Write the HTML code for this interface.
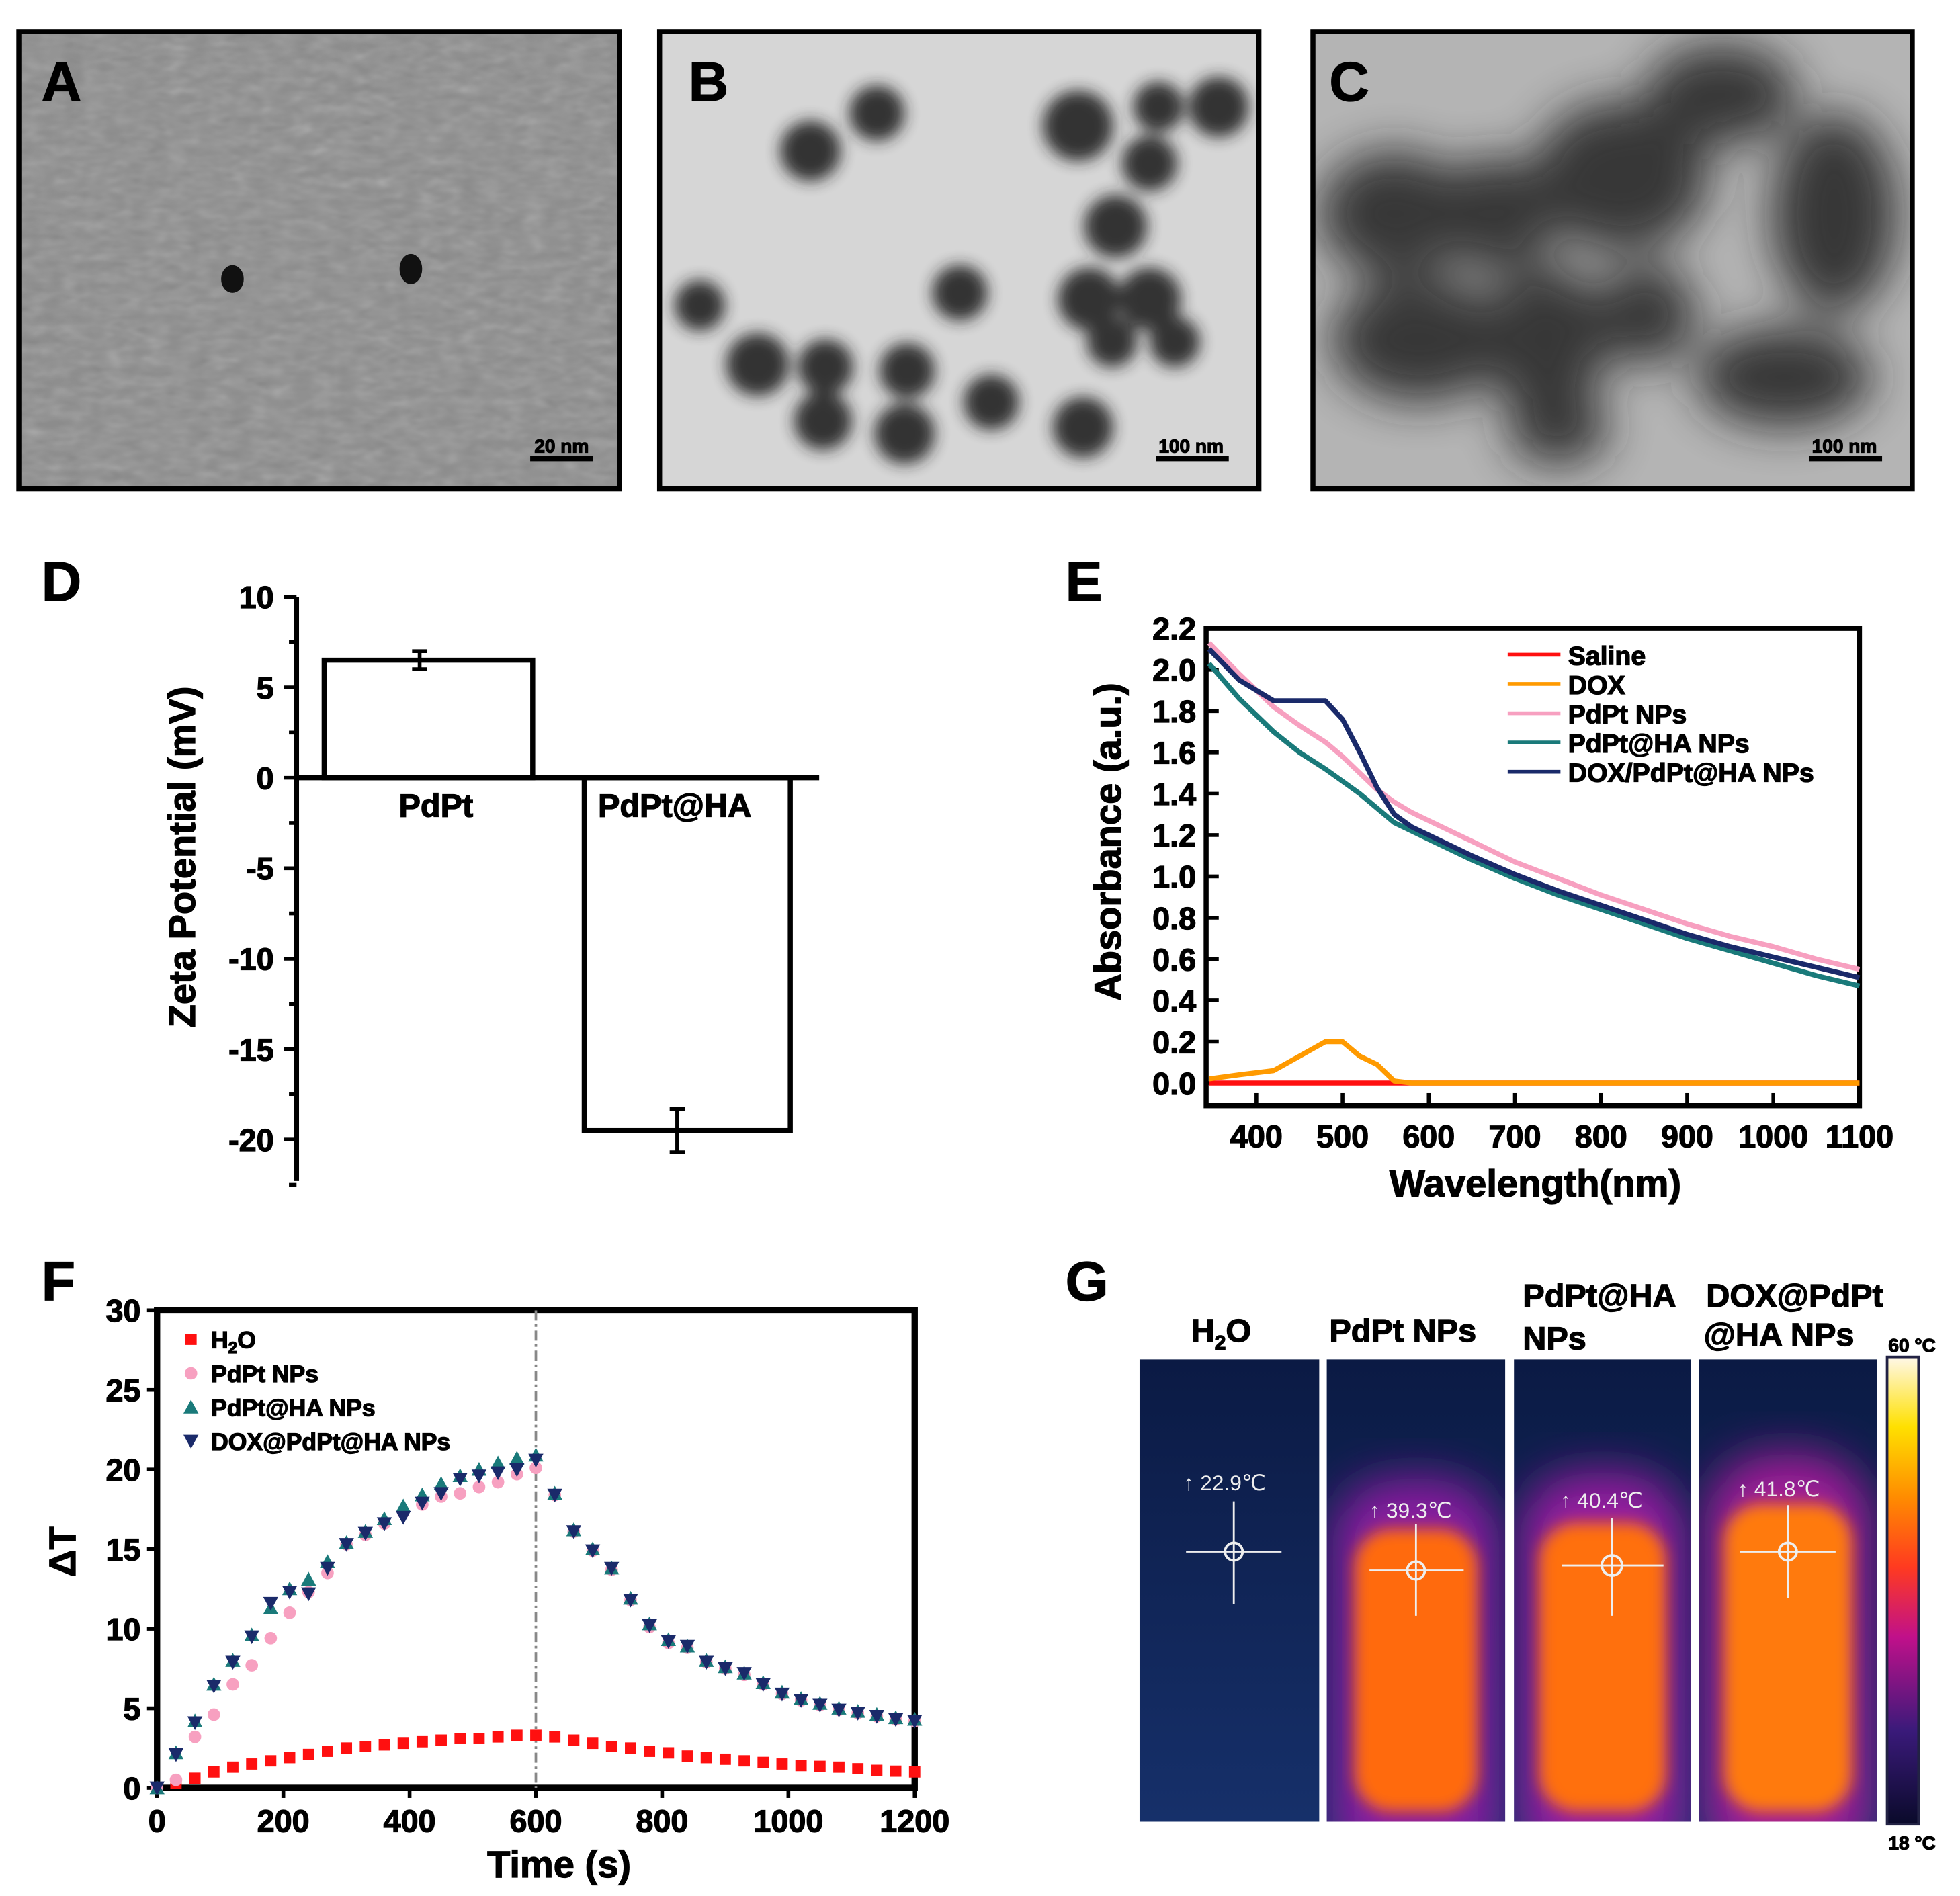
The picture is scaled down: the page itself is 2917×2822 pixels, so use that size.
<!DOCTYPE html>
<html><head><meta charset="utf-8"><style>
html,body{margin:0;padding:0;background:#fff;}
svg{display:block;}
text{font-family:"Liberation Sans",sans-serif;font-weight:bold;fill:#000;stroke:#000;stroke-width:0.7px;}
</style></head><body>
<svg id="fig" width="2917" height="2822" viewBox="0 0 1560 1509" xmlns="http://www.w3.org/2000/svg">
<defs>
<filter id="blur6"><feGaussianBlur stdDeviation="6"/></filter>
<filter id="blur20"><feGaussianBlur stdDeviation="18"/></filter>
<filter id="noise" x="0" y="0" width="1" height="1"><feTurbulence type="fractalNoise" baseFrequency="0.06 0.12" numOctaves="2" seed="3"/><feColorMatrix type="saturate" values="0"/></filter>
<clipPath id="clipA"><rect x="15" y="25" width="478" height="364"/></clipPath>
<clipPath id="clipB"><rect x="525" y="25" width="477" height="364"/></clipPath>
<clipPath id="clipC"><rect x="1045" y="25" width="477" height="364"/></clipPath>
<linearGradient id="cbar" x1="0" y1="1" x2="0" y2="0">
<stop offset="0" stop-color="#0a0a2a"/><stop offset="0.2" stop-color="#3a1a7a"/><stop offset="0.4" stop-color="#c0108a"/><stop offset="0.55" stop-color="#ff3a20"/><stop offset="0.7" stop-color="#ff8c00"/><stop offset="0.85" stop-color="#ffe000"/><stop offset="1" stop-color="#fff8e8"/></linearGradient>
<linearGradient id="bgv" x1="0" y1="0" x2="0" y2="1"><stop offset="0" stop-color="#0b1a44"/><stop offset="1" stop-color="#16306a"/></linearGradient>
</defs>

<g>
<g clip-path="url(#clipA)">
<rect x="15" y="25" width="478" height="364" fill="#8c8c8c"/>
<rect x="15" y="25" width="478" height="364" filter="url(#noise)" opacity="0.35"/>
</g>
<ellipse cx="185" cy="222" rx="9" ry="11" fill="#111"/><ellipse cx="327" cy="214" rx="9" ry="12" fill="#111"/>
<rect x="15" y="25" width="478" height="364" fill="none" stroke="#000" stroke-width="4"/>
<text x="33" y="80" font-size="44">A</text>
<line x1="422" y1="365" x2="472" y2="365" stroke="#000" stroke-width="4"/><text x="447" y="360" font-size="15" text-anchor="middle">20 nm</text>
</g>
<g>
<rect x="525" y="25" width="477" height="364" fill="#d6d6d6"/>
<g clip-path="url(#clipB)"><g fill="#222" filter="url(#blur6)" opacity="0.9">
<circle cx="645" cy="120" r="24"/><circle cx="698" cy="90" r="22"/><circle cx="557" cy="243" r="20"/><circle cx="603" cy="290" r="25"/><circle cx="657" cy="292" r="22"/><circle cx="655" cy="335" r="23"/><circle cx="722" cy="295" r="22"/><circle cx="720" cy="345" r="24"/><circle cx="764" cy="233" r="22"/><circle cx="789" cy="320" r="22"/><circle cx="858" cy="100" r="28"/><circle cx="922" cy="85" r="20"/><circle cx="970" cy="85" r="24"/><circle cx="915" cy="130" r="22"/><circle cx="888" cy="180" r="25"/><circle cx="867" cy="238" r="25"/><circle cx="915" cy="238" r="25"/><circle cx="885" cy="272" r="20"/><circle cx="935" cy="272" r="20"/><circle cx="862" cy="340" r="24"/></g></g>
<rect x="525" y="25" width="477" height="364" fill="none" stroke="#000" stroke-width="4"/>
<text x="548" y="80" font-size="44">B</text>
<line x1="920" y1="365" x2="978" y2="365" stroke="#000" stroke-width="4"/><text x="948" y="360" font-size="15" text-anchor="middle">100 nm</text>
</g>
<g>
<rect x="1045" y="25" width="477" height="364" fill="#b4b4b4"/>
<g clip-path="url(#clipC)"><g fill="#222" filter="url(#blur20)" opacity="0.85">
<ellipse cx="1110" cy="170" rx="60" ry="50"/><ellipse cx="1190" cy="170" rx="50" ry="45"/><ellipse cx="1290" cy="140" rx="70" ry="60"/><ellipse cx="1370" cy="75" rx="60" ry="40"/><ellipse cx="1460" cy="170" rx="50" ry="80"/><ellipse cx="1130" cy="270" rx="70" ry="50"/><ellipse cx="1230" cy="270" rx="50" ry="60"/><ellipse cx="1310" cy="250" rx="40" ry="40"/><ellipse cx="1420" cy="300" rx="70" ry="40"/><ellipse cx="1240" cy="340" rx="40" ry="30"/></g></g>
<rect x="1045" y="25" width="477" height="364" fill="none" stroke="#000" stroke-width="4"/>
<text x="1058" y="80" font-size="44">C</text>
<line x1="1440" y1="365" x2="1498" y2="365" stroke="#000" stroke-width="4"/><text x="1468" y="360" font-size="15" text-anchor="middle">100 nm</text>
</g>

<g id="panelD"></g>
<g id="panelE"></g>
<g id="panelF"></g>

<g>
<text x="848" y="1035" font-size="44">G</text>
<text x="948" y="1068" font-size="26">H<tspan font-size="16" dy="6">2</tspan><tspan dy="-6">O</tspan></text>
<text x="1058" y="1068" font-size="26">PdPt NPs</text>
<text x="1212" y="1040" font-size="26">PdPt@HA</text><text x="1212" y="1074" font-size="26">NPs</text>
<text x="1358" y="1040" font-size="26">DOX@PdPt</text><text x="1356" y="1071" font-size="26">@HA NPs</text>
<g><rect x="907" y="1082" width="143" height="368" fill="url(#bgv)"/></g>
<g><rect x="1056" y="1082" width="142" height="368" fill="url(#bgv)"/>
<svg x="1056" y="1082" width="142" height="368"><rect x="5" y="95" width="132" height="320" rx="50" fill="#8a1ea0" filter="url(#blur20)"/><rect x="22" y="135" width="98" height="225" rx="30" fill="#ff6a10" filter="url(#blur6)"/></svg></g>
<g><rect x="1205" y="1082" width="141" height="368" fill="url(#bgv)"/>
<svg x="1205" y="1082" width="141" height="368"><rect x="5" y="90" width="131" height="320" rx="50" fill="#961ea0" filter="url(#blur20)"/><rect x="20" y="130" width="101" height="230" rx="30" fill="#ff7010" filter="url(#blur6)"/></svg></g>
<g><rect x="1352" y="1082" width="142" height="368" fill="url(#bgv)"/>
<svg x="1352" y="1082" width="142" height="368"><rect x="5" y="75" width="132" height="335" rx="55" fill="#a01e98" filter="url(#blur20)"/><rect x="20" y="115" width="102" height="245" rx="30" fill="#ff7a10" filter="url(#blur6)"/></svg></g>
<g stroke="#eee" stroke-width="1.5" fill="none">
<line x1="982" y1="1195" x2="982" y2="1277"/><line x1="944" y1="1235" x2="1020" y2="1235"/><circle cx="982" cy="1235" r="7" stroke-width="2"/>
<line x1="1127" y1="1213" x2="1127" y2="1286"/><line x1="1090" y1="1250" x2="1165" y2="1250"/><circle cx="1127" cy="1250" r="7" stroke-width="2"/>
<line x1="1283" y1="1208" x2="1283" y2="1286"/><line x1="1243" y1="1246" x2="1324" y2="1246"/><circle cx="1283" cy="1246" r="8" stroke-width="2"/>
<line x1="1423" y1="1198" x2="1423" y2="1272"/><line x1="1385" y1="1235" x2="1461" y2="1235"/><circle cx="1423" cy="1235" r="7" stroke-width="2"/>
</g>
<g font-size="17">
<text x="942" y="1186" style="font-weight:normal;fill:#eee;stroke:none">↑ 22.9℃</text>
<text x="1090" y="1208" style="font-weight:normal;fill:#eee;stroke:none">↑ 39.3℃</text>
<text x="1242" y="1200" style="font-weight:normal;fill:#eee;stroke:none">↑ 40.4℃</text>
<text x="1383" y="1191" style="font-weight:normal;fill:#eee;stroke:none">↑ 41.8℃</text>
</g>
<rect x="1502" y="1080" width="25" height="372" fill="url(#cbar)" stroke="#224" stroke-width="2"/>
<text x="1503" y="1076" font-size="15">60 °C</text>
<text x="1503" y="1472" font-size="15">18 °C</text>
</g>

<script>
var NS='http://www.w3.org/2000/svg';
function mk(p,tag,attrs,txt){var e=document.createElementNS(NS,tag);for(var k in attrs)e.setAttribute(k,attrs[k]);if(txt!==undefined)e.textContent=txt;p.appendChild(e);return e;}

var dCategories=['PdPt','PdPt@HA'];
var dValues=[6.5,-19.5];
var dErrors=[0.5,1.2];
var dTicks=[10,5,0,-5,-10,-15,-20];

var eWavelengths=[345,380,420,450,480,500,520,540,560,580,600,650,700,750,800,850,900,950,1000,1050,1100];
var eSaline=[0,0,0,0,0,0,0,0,0,0,0,0,0,0,0,0,0,0,0,0,0];
var eDOX=[0.02,0.04,0.06,0.13,0.2,0.2,0.13,0.09,0.01,0,0,0,0,0,0,0,0,0,0,0,0];
var ePdPt=[2.13,1.98,1.82,1.73,1.65,1.58,1.5,1.42,1.36,1.31,1.27,1.17,1.07,0.99,0.91,0.84,0.77,0.71,0.66,0.6,0.55];
var ePdPtHA=[2.03,1.86,1.7,1.6,1.52,1.46,1.4,1.33,1.26,1.22,1.18,1.08,0.99,0.91,0.84,0.77,0.7,0.64,0.58,0.52,0.47];
var eDoxPdPtHA=[2.1,1.95,1.85,1.85,1.85,1.76,1.6,1.43,1.3,1.24,1.2,1.1,1.01,0.93,0.86,0.79,0.72,0.66,0.61,0.56,0.51];
var eYTicks=[0,0.2,0.4,0.6,0.8,1.0,1.2,1.4,1.6,1.8,2.0,2.2];
var eXTicks=[400,500,600,700,800,900,1000,1100];

var fTimes=[0,30,60,90,120,150,180,210,240,270,300,330,360,390,420,450,480,510,540,570,600,630,660,690,720,750,780,810,840,870,900,930,960,990,1020,1050,1080,1110,1140,1170,1200];
var fH2O=[0,0.3,0.6,1.0,1.3,1.5,1.7,1.9,2.1,2.3,2.5,2.6,2.7,2.8,2.9,3.0,3.1,3.1,3.2,3.3,3.3,3.2,3.0,2.8,2.6,2.5,2.3,2.2,2.0,1.9,1.8,1.7,1.6,1.5,1.4,1.35,1.3,1.2,1.1,1.05,1.0];
var fPdPt=[0,0.5,3.2,4.6,6.5,7.7,9.4,11.0,12.3,13.5,15.3,15.9,16.6,17.3,17.8,18.3,18.5,18.9,19.2,19.7,20.1,18.4,16.1,14.9,13.7,11.8,10.1,9.1,8.8,7.9,7.5,7.1,6.5,5.9,5.5,5.2,4.9,4.7,4.5,4.3,4.2];
var fPdPtHA=[0,2.2,4.2,6.5,8.0,9.6,11.3,12.5,13.1,14.2,15.4,16.1,16.9,17.7,18.4,19.1,19.6,20.0,20.4,20.7,20.9,18.5,16.2,15.0,13.8,11.9,10.3,9.3,8.9,8.0,7.6,7.2,6.6,6.0,5.6,5.3,5.0,4.8,4.6,4.4,4.3];
var fDOX=[0,2.1,4.1,6.4,7.9,9.5,11.6,12.3,12.2,13.8,15.3,16.0,16.6,17.0,17.9,18.5,19.4,19.6,19.8,20.0,20.6,18.4,16.1,14.9,13.8,11.8,10.2,9.2,8.9,7.9,7.5,7.2,6.5,5.9,5.5,5.2,4.9,4.7,4.5,4.3,4.2];
var fYTicks=[0,5,10,15,20,25,30];
var fXTicks=[0,200,400,600,800,1000,1200];

(function(){
var g=document.getElementById('panelD');
function y(v){return 619-v*14.4;}
mk(g,'text',{x:33,y:478,'font-size':44},'D');
var ax=mk(g,'line',{x1:236,y1:y(10),x2:236,y2:940,stroke:'#000','stroke-width':4});


for(var v=10;v>=-22.5;v-=2.5){var major=(v%5===0);mk(g,'line',{x1:236,y1:y(v),x2:major?226:230,y2:y(v),stroke:'#000','stroke-width':3});}
dTicks.forEach(function(t){var tx=mk(g,'text',{x:218,y:y(t)+9,'font-size':25,'text-anchor':'end'},String(t));

});
var bx=[258,465],bw=[166,164];
dValues.forEach(function(v,i){
var r=mk(g,'rect',{x:bx[i],y:Math.min(y(0),y(v)),width:bw[i],height:Math.abs(y(v)-y(0)),fill:'#fff',stroke:'#000','stroke-width':4});


var cx=bx[i]+bw[i]/2+(i===0?-7:-8);
mk(g,'line',{x1:cx,y1:y(v+dErrors[i]),x2:cx,y2:y(v-dErrors[i]),stroke:'#000','stroke-width':3});
mk(g,'line',{x1:cx-6,y1:y(v+dErrors[i]),x2:cx+6,y2:y(v+dErrors[i]),stroke:'#000','stroke-width':3});
mk(g,'line',{x1:cx-6,y1:y(v-dErrors[i]),x2:cx+6,y2:y(v-dErrors[i]),stroke:'#000','stroke-width':3});
var lb=mk(g,'text',{x:bx[i]+bw[i]/2-(i?10:-6),y:650,'font-size':26,'text-anchor':'middle'},dCategories[i]);


});
mk(g,'line',{x1:236,y1:y(0),x2:652,y2:y(0),stroke:'#000','stroke-width':4});
var t=mk(g,'text',{x:0,y:0,'font-size':30,'text-anchor':'middle',transform:'translate(155,682) rotate(-90)'},'Zeta Potential (mV)');


})();

(function(){
var g=document.getElementById('panelE');
function x(w){return 1000+(w-400)*68.57/100;}
function y(v){return 862-v*164.5;}
mk(g,'text',{x:848,y:478,'font-size':44},'E');
var fr=mk(g,'rect',{x:960,y:500,width:520,height:380,fill:'none',stroke:'#000','stroke-width':4});


eYTicks.forEach(function(t){mk(g,'line',{x1:960,y1:y(t),x2:970,y2:y(t),stroke:'#000','stroke-width':3});
var tx=mk(g,'text',{x:952,y:y(t)+9,'font-size':25,'text-anchor':'end'},t.toFixed(1));

});
eXTicks.forEach(function(t){mk(g,'line',{x1:x(t),y1:880,x2:x(t),y2:870,stroke:'#000','stroke-width':3});
var tx=mk(g,'text',{x:x(t),y:913,'font-size':25,'text-anchor':'middle'},String(t));

});
var series=[[eSaline,'#ff1010','Saline'],[eDOX,'#ff9a00','DOX'],[ePdPt,'#f7a0c0','PdPt NPs'],[ePdPtHA,'#1a7a7a','PdPt@HA NPs'],[eDoxPdPtHA,'#1a2a6a','DOX/PdPt@HA NPs']];
[0,1,3,2,4].forEach(function(i){var s=series[i];
var d=s[0].map(function(v,k){return (k?'L':'M')+x(eWavelengths[k]).toFixed(1)+','+y(v).toFixed(1);}).join('');
var p=mk(g,'path',{d:d,fill:'none',stroke:s[1],'stroke-width':4,'stroke-linejoin':'round'});

});
series.forEach(function(s,i){var ly=521+i*23.3;
mk(g,'line',{x1:1200,y1:ly,x2:1242,y2:ly,stroke:s[1],'stroke-width':3});
var tx=mk(g,'text',{x:1248,y:ly+8,'font-size':21},s[2]);

});
var t=mk(g,'text',{x:0,y:0,'font-size':30,'text-anchor':'middle',transform:'translate(892,670) rotate(-90)'},'Absorbance (a.u.)');


var t2=mk(g,'text',{x:1222,y:952,'font-size':30,'text-anchor':'middle'},'Wavelength(nm)');


})();

(function(){
var g=document.getElementById('panelF');
function x(t){return 125+t*0.5025;}
function y(v){return 1423-v*12.67;}
mk(g,'text',{x:33,y:1035,'font-size':44},'F');
var fr=mk(g,'rect',{x:125,y:1043,width:603,height:380,fill:'none',stroke:'#000','stroke-width':5});


mk(g,'line',{x1:x(600),y1:1043,x2:x(600),y2:1423,stroke:'#888','stroke-width':2,'stroke-dasharray':'8,3,2,3'});
fYTicks.forEach(function(t){mk(g,'line',{x1:125,y1:y(t),x2:117,y2:y(t),stroke:'#000','stroke-width':3});
var tx=mk(g,'text',{x:112,y:y(t)+9,'font-size':25,'text-anchor':'end'},String(t));

});
fXTicks.forEach(function(t){mk(g,'line',{x1:x(t),y1:1423,x2:x(t),y2:1431,stroke:'#000','stroke-width':3});
var tx=mk(g,'text',{x:x(t),y:1458,'font-size':25,'text-anchor':'middle'},String(t));

});
function marker(px,py,type,col){
if(type==='sq')return mk(g,'rect',{x:px-4.5,y:py-4.5,width:9,height:9,fill:col});
if(type==='ci')return mk(g,'circle',{cx:px,cy:py,r:5,fill:col});
if(type==='up')return mk(g,'path',{d:'M'+px+','+(py-6)+'L'+(px+6)+','+(py+5)+'L'+(px-6)+','+(py+5)+'Z',fill:col});
return mk(g,'path',{d:'M'+px+','+(py+6)+'L'+(px+6)+','+(py-5)+'L'+(px-6)+','+(py-5)+'Z',fill:col});}
var series=[[fH2O,'sq','#ff1010','h2o'],[fPdPt,'ci','#f7a0c0','pdpt-nps'],[fPdPtHA,'up','#1a7a7a','pdpt-ha-nps'],[fDOX,'dn','#1a2a6a','dox-pdpt-ha-nps']];
series.forEach(function(s){s[0].forEach(function(v,k){var m=marker(x(fTimes[k]),y(v),s[1],s[2]);

});});
var labels=['H2O','PdPt NPs','PdPt@HA NPs','DOX@PdPt@HA NPs'];
series.forEach(function(s,i){var ly=1066+i*27;marker(152,ly,s[1],s[2]);
var tx;
if(i===0){tx=mk(g,'text',{x:168,y:ly+7,'font-size':19},'H');mk(tx,'tspan',{'font-size':13,dy:4},'2');mk(tx,'tspan',{dy:-4},'O');}
else tx=mk(g,'text',{x:168,y:ly+7,'font-size':19},labels[i]);

});
var t=mk(g,'text',{x:0,y:0,'font-size':30,'text-anchor':'middle',transform:'translate(60,1235) rotate(-90)'},'ΔT');


var t2=mk(g,'text',{x:445,y:1494,'font-size':30,'text-anchor':'middle'},'Time (s)');


})();
</script>
</svg>
</body></html>
